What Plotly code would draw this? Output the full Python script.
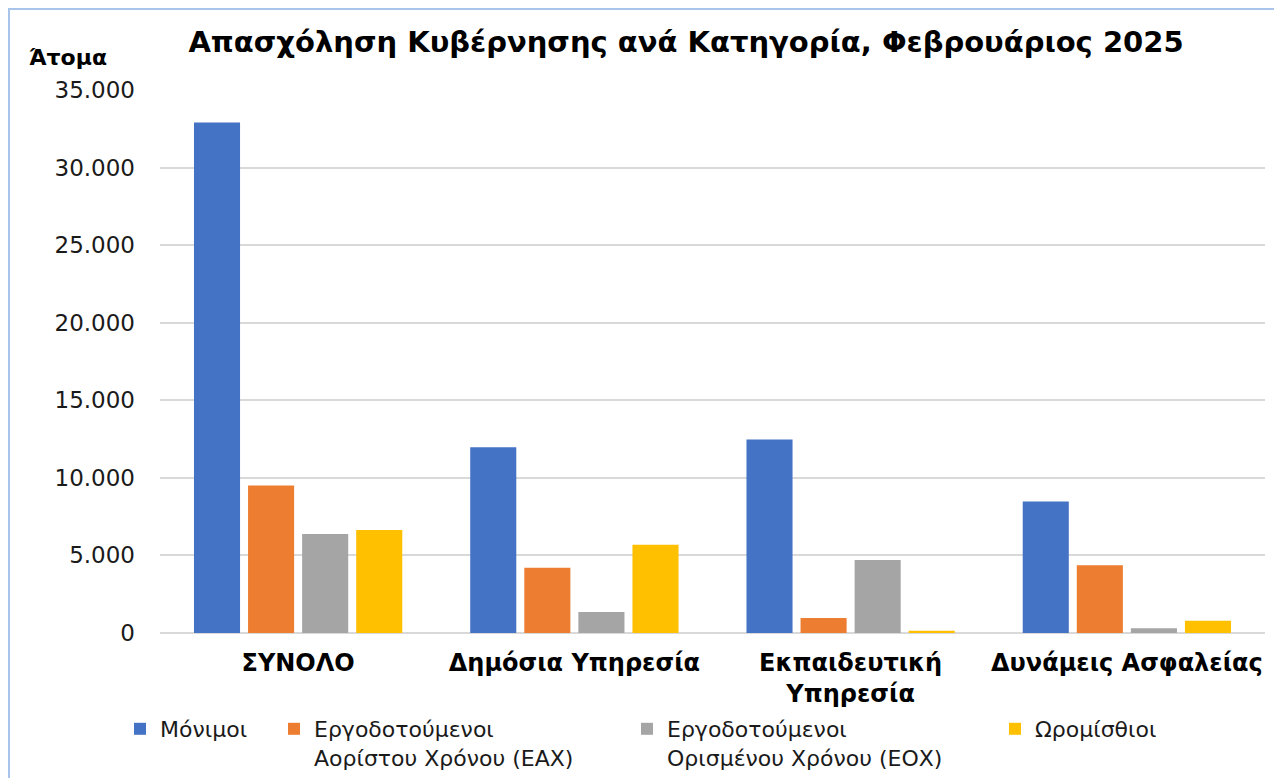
import plotly.graph_objects as go

categories = ["ΣΥΝΟΛΟ", "Δημόσια Υπηρεσία", "Εκπαιδευτική<br>Υπηρεσία", "Δυνάμεις Ασφαλείας"]
series_names = ["Μόνιμοι", "Εργοδοτούμενοι<br>Αορίστου Χρόνου (ΕΑΧ)",
                "Εργοδοτούμενοι<br>Ορισμένου Χρόνου (ΕΟΧ)", "Ωρομίσθιοι"]
monimoi = [32900, 11980, 12480, 8480]
eax = [9510, 4200, 970, 4360]
eox = [6380, 1360, 4700, 300]
oromisthioi = [6640, 5690, 150, 790]
y_ticks = [0, 5000, 10000, 15000, 20000, 25000, 30000, 35000]

colors = ["#4472C4", "#ED7D31", "#A5A5A5", "#FFC000"]
values = [monimoi, eax, eox, oromisthioi]
legend_ids = ["legend", "legend2", "legend3", "legend4"]

FONT = "DejaVu Sans"
fig = go.Figure()
for name, vals, col, lg in zip(series_names, values, colors, legend_ids):
    fig.add_trace(go.Bar(x=categories, y=vals, name=name, marker_color=col,
                         marker_line_width=0, legend=lg))

# page body offset (default 8px margin) compensated
OFF = 8
W, H = 1282, 778
L = 160 - OFF
T = 90 - OFF
R = W - (1265 - OFF)
B = H - (633 - OFF)
pw, ph = W - L - R, H - T - B
def px_x(sx):
    return (sx - OFF - L) / pw
def px_y(sy):
    return (H - B - (sy - OFF)) / ph

leg_common = dict(orientation="v", yanchor="top", xanchor="left",
                  bgcolor="rgba(0,0,0,0)", valign="top",
                  font=dict(family=FONT, size=22, color="#1a1a1a"))
leg_x = [120, 274, 627, 995]
legends = {}
for lg, lx in zip(legend_ids, leg_x):
    legends[lg] = dict(x=px_x(lx), y=px_y(708), **leg_common)

fig.update_layout(
    width=W, height=H,
    margin=dict(l=L, r=R, t=T, b=B, autoexpand=False),
    paper_bgcolor="white", plot_bgcolor="white",
    separators=",.",
    bargap=0.217, bargroupgap=0.148,
    barmode="group",
    title=dict(text="<b>Απασχόληση Κυβέρνησης ανά Κατηγορία, Φεβρουάριος 2025</b>",
               x=(686 - OFF) / W, xanchor="center", y=1 - (42 - OFF) / H, yanchor="middle",
               font=dict(family=FONT, size=29, color="#000000")),
    font=dict(family=FONT, color="#1a1a1a"),
    xaxis=dict(showgrid=False, showline=False, ticks="",
               tickfont=dict(family=FONT, size=24, color="#000000", weight="bold"),
               ticklabelstandoff=13),
    yaxis=dict(range=[0, 35000], tickvals=y_ticks, tickformat=",d",
               showgrid=True, gridcolor="#d9d9d9", gridwidth=2,
               zeroline=True, zerolinecolor="#d9d9d9", zerolinewidth=2,
               showline=False, ticks="", ticklabelstandoff=24,
               tickfont=dict(family=FONT, size=23, color="#1a1a1a")),
    showlegend=True,
    **legends,
)

fig.add_annotation(text="<b>Άτομα</b>", xref="paper", yref="paper",
                   x=px_x(27), y=px_y(57), xanchor="left", yanchor="middle",
                   showarrow=False, font=dict(family=FONT, size=22, color="#000000"))

fig.add_shape(type="rect", xref="paper", yref="paper",
              x0=px_x(9), x1=px_x(1300), y0=px_y(800), y1=px_y(9),
              line=dict(color="#a9c4eb", width=2), fillcolor="rgba(0,0,0,0)",
              layer="below")

fig.write_html("out.html")
